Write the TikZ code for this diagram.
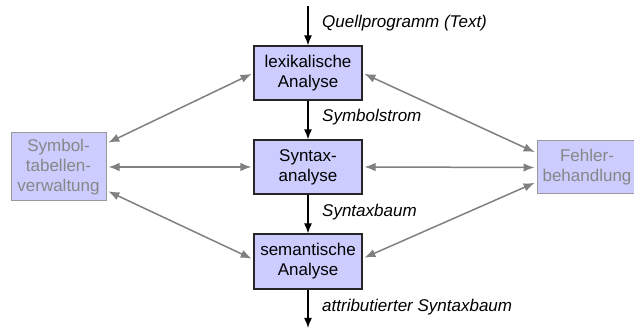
\documentclass[tikz,border=0pt]{standalone}
\usepackage{fontspec}
\setmainfont{Liberation Sans}
\usetikzlibrary{arrows.meta}
\definecolor{boxfill}{RGB}{204,204,255}
\definecolor{grayline}{RGB}{128,128,128}
\definecolor{graytext}{RGB}{135,135,135}
\begin{document}
\begin{tikzpicture}[x=1pt,y=-1pt,
  font=\fontsize{17}{20}\selectfont,
  phase/.style={draw=black!85,line width=1.1pt,fill=boxfill,align=center,
    minimum width=108pt,minimum height=54pt,inner sep=0pt},
  side/.style={draw=grayline!80,line width=1pt,fill=boxfill,align=center,
    text=graytext,inner sep=0pt},
  flow/.style={line width=1.5pt,-{Latex[length=10pt,width=8pt]}},
  link/.style={draw=grayline,line width=1.5pt,{Latex[length=11pt,width=8.5pt]}-{Latex[length=11pt,width=8.5pt]},shorten <=2pt,shorten >=2pt},
  lbl/.style={anchor=west,inner sep=0pt,font=\fontsize{17}{20}\selectfont\itshape}]
\useasboundingbox (0,0) rectangle (634,328);
\node[phase] (lex) at (308,73) {lexikalische\\Analyse};
\node[phase] (syn) at (308,167) {Syntax-\\analyse};
\node[phase,minimum height=55pt] (sem) at (308,261.5) {semantische\\Analyse};
\node[side,minimum width=95pt,minimum height=68pt] (sym) at (58.5,167) {Symbol-\\tabellen-\\verwaltung};
\node[side,minimum width=100pt,minimum height=53pt] (err) at (587,167.5) {Fehler-\\behandlung};
\coordinate (in) at (308,6);
\coordinate (out) at (308,328);
\draw[flow] (in) -- (lex.north);
\draw[flow] (lex.south) -- (syn.north);
\draw[flow] (syn.south) -- (sem.north);
\draw[flow] (sem.south) -- (out);
\node[lbl] (l1) at (322,23) {Quellprogramm (Text)};
\node[lbl] (l2) at (322,117) {Symbolstrom};
\node[lbl] (l3) at (322,212) {Syntaxbaum};
\node[lbl] (l4) at (322,307) {attributierter Syntaxbaum};
\draw[link] ([yshift=23.5pt]sym.east) -- (lex.west);
\draw[link] (sym.east) -- (syn.west);
\draw[link] ([yshift=-23.5pt]sym.east) -- ([yshift=2pt]sem.west);
\draw[link] (lex.east) -- ([yshift=14.5pt]err.west);
\draw[link] (syn.east) -- (err.west);
\draw[link] ([yshift=3pt]sem.east) -- ([yshift=-14.5pt]err.west);
\end{tikzpicture}
\end{document}
